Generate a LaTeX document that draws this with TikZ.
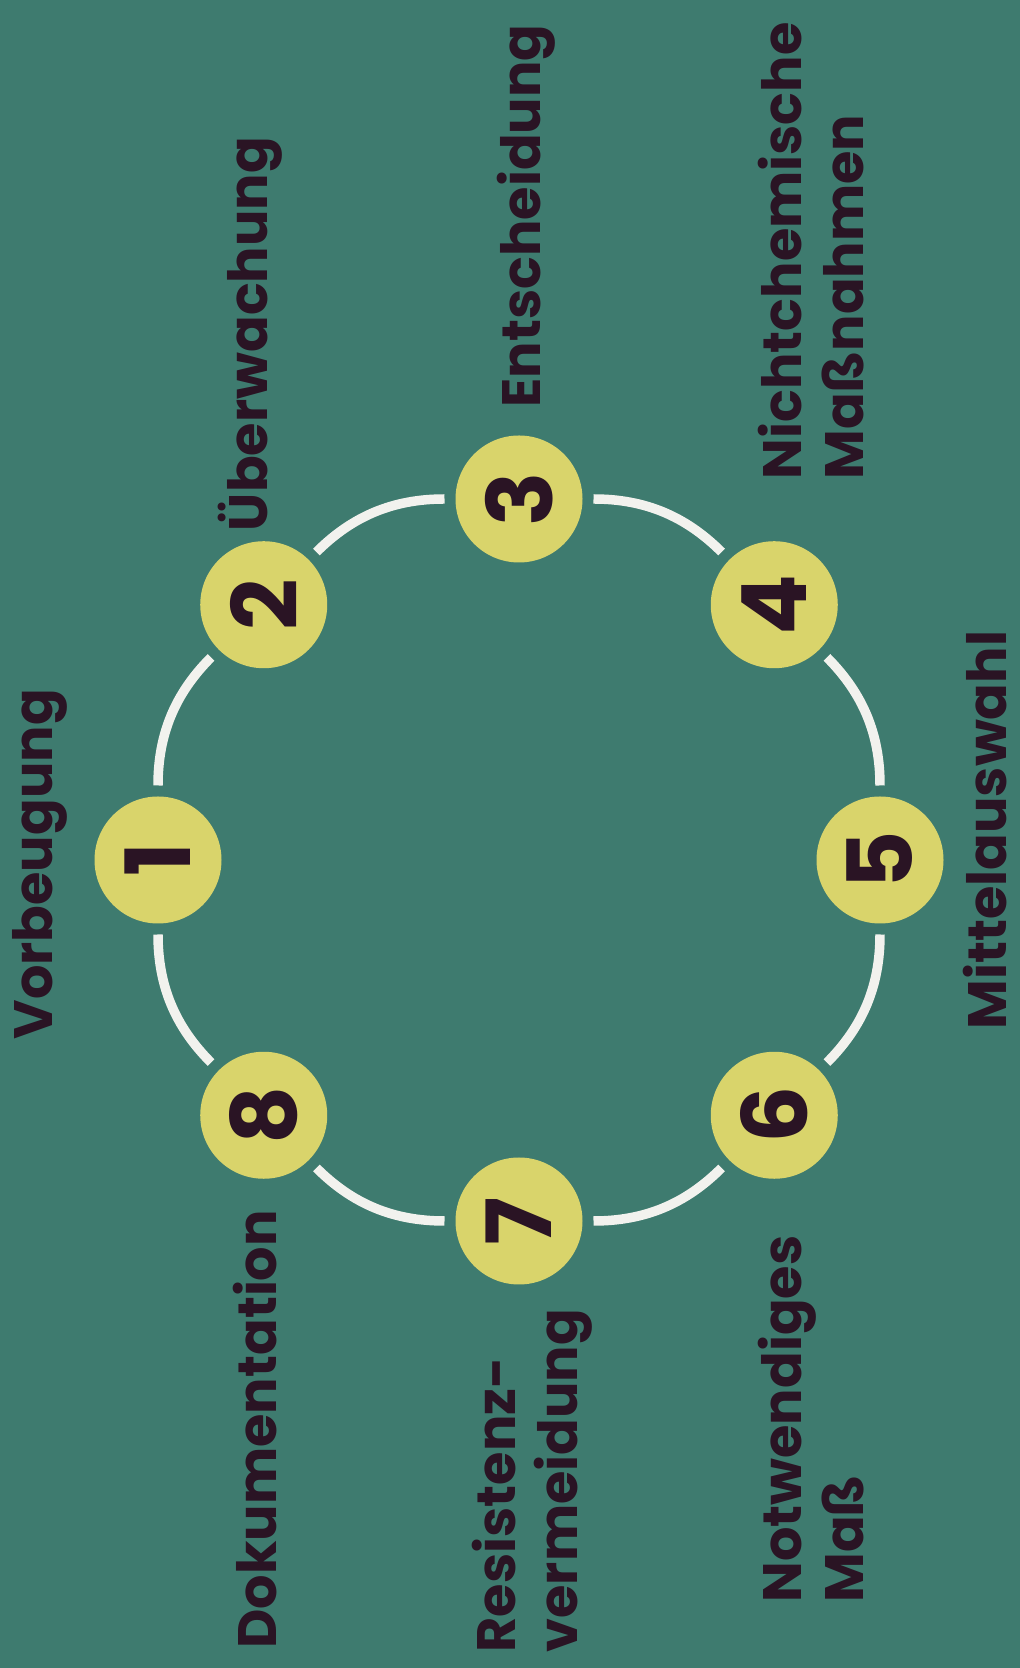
\documentclass[tikz,border=0pt]{standalone}
\usepackage{fontspec}
\setmainfont{Poppins}
\usetikzlibrary{positioning}
\definecolor{cBg}{HTML}{3E7B6F}
\definecolor{cDot}{HTML}{D9D46B}
\definecolor{cInk}{HTML}{2A1424}
\definecolor{cRing}{HTML}{F2F2EE}

\begin{document}
\begin{tikzpicture}[
    font=\bfseries,
    dot/.style={circle, fill=cDot, minimum size=12.7mm, inner sep=0pt, outer sep=0pt, text=cInk,
      font=\fontsize{25.6}{26}\selectfont\bfseries, rotate=90},
    lbl/.style={rotate=90, anchor=base west, inner sep=0pt, align=left, text=cInk,
      font=\fontsize{15.4}{17.6}\selectfont\bfseries},
    ring/.style={draw=cRing, line width=2.7pt, shorten <=1.1mm, shorten >=1.1mm},
  ]
  % --- background / page size ---
  \fill[cBg] (0,0) rectangle (10.2,16.68);
  \useasboundingbox (0,0) rectangle (10.2,16.68);

  % --- the eight steps on the ring ---
  \coordinate (ctr) at (5.19,8.08);
  \node[dot] (n1) at ([shift={(180:3.61)}]ctr) {1};
  \node[dot] (n2) at ([shift={(135:3.61)}]ctr) {2};
  \node[dot] (n3) at ([shift={(90:3.61)}]ctr) {3};
  \node[dot] (n4) at ([shift={(45:3.61)}]ctr) {4};
  \node[dot] (n5) at ([shift={(0:3.61)}]ctr) {5};
  \node[dot] (n6) at ([shift={(-45:3.61)}]ctr) {6};
  \node[dot] (n7) at ([shift={(-90:3.61)}]ctr) {7};
  \node[dot] (n8) at ([shift={(-135:3.61)}]ctr) {8};

  % --- ring segments ---
  \draw[ring] (n1) to[bend left=22.5] (n2);
  \draw[ring] (n2) to[bend left=22.5] (n3);
  \draw[ring] (n3) to[bend left=22.5] (n4);
  \draw[ring] (n4) to[bend left=22.5] (n5);
  \draw[ring] (n5) to[bend left=22.5] (n6);
  \draw[ring] (n6) to[bend left=22.5] (n7);
  \draw[ring] (n7) to[bend left=22.5] (n8);
  \draw[ring] (n8) to[bend left=22.5] (n1);

  % --- labels (two-line ones sit on their last line) ---
  \node[lbl] (lvor) at ([shift={(-1.05,-1.80)}]n1.center) {Vorbeugung};
  \node[lbl] (lueb) at ([shift={(0.04,0.73)}]n2.center) {Überwachung};
  \node[lbl] (lent) at ([shift={(0.21,0.91)}]n3.center) {Entscheidung};
  \node[lbl] (lnich) at ([shift={(0.89,1.25)}]n4.center) {Nichtchemische\\Maßnahmen};
  \node[lbl] (lmit) at ([shift={(1.26,-1.70)}]n5.center) {Mittelauswahl};
  \node[lbl] (lnot) at ([shift={(0.89,-4.88)}]n6.center) {Notwendiges\\Maß};
  \node[lbl] (lres) at ([shift={(0.58,-4.32)}]n7.center) {Resistenz-\\vermeidung};
  \node[lbl] (ldok) at ([shift={(0.13,-5.34)}]n8.center) {Dokumentation};
\end{tikzpicture}
\end{document}
